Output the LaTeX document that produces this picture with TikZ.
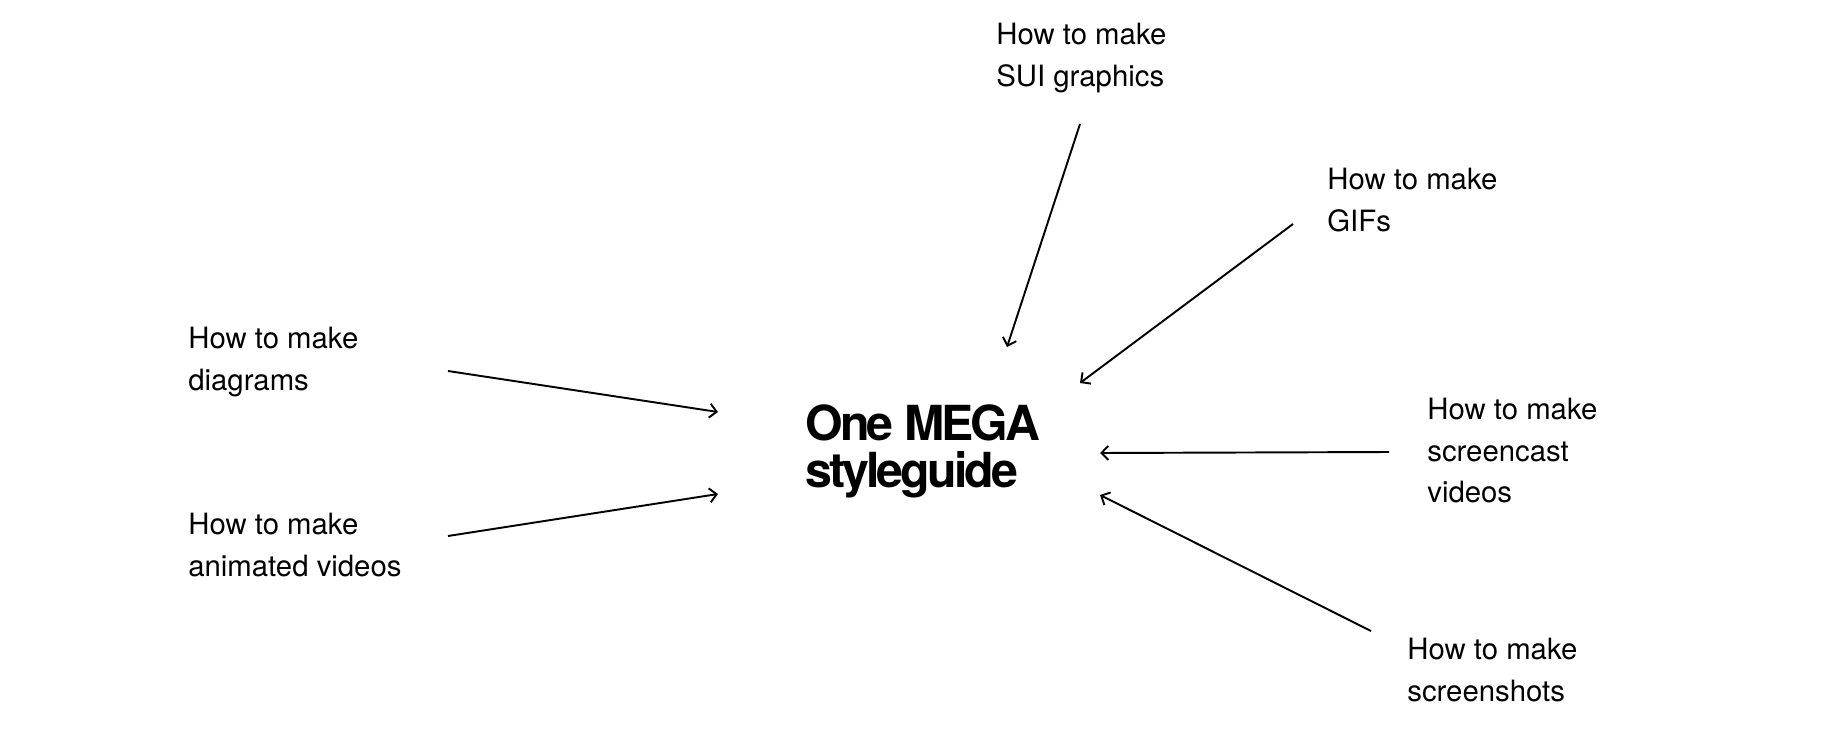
\documentclass[tikz,border=0pt]{standalone}
\usepackage{fontspec}
\setmainfont{TeX Gyre Heros}
\newfontfamily\hubfont[LetterSpace=-6]{TeX Gyre Heros}
\usetikzlibrary{arrows.meta}

\begin{document}
\begin{tikzpicture}[x=0.02cm, y=-0.02cm,
    label/.style={anchor=north west, inner sep=0, align=left,
      font=\fontsize{16.7}{23.6}\selectfont},
    link/.style={line width=1.1pt, -{Straight Barb[length=4pt, width=8pt, line width=1.1pt]}}]
    \useasboundingbox (0, 0) rectangle (1848, 733);

    \node[anchor=north west, inner sep=0, align=left,
      font=\hubfont\bfseries\fontsize{27.5}{26.8}\selectfont] (hub) at (805, 404) {One MEGA\\styleguide};

    \node[label] (diagrams) at (188, 327) {How to make\\diagrams};
    \node[label] (animated) at (188, 513) {How to make\\animated videos};
    \node[label] (sui) at (996, 23) {How to make\\SUI graphics};
    \node[label] (gifs) at (1327, 168) {How to make\\GIFs};
    \node[label] (screencast) at (1427, 398) {How to make\\screencast\\videos};
    \node[label] (screenshots) at (1407, 638) {How to make\\screenshots};

    \draw[link] ([shift={(260, 44)}]diagrams.north west) -- ([shift={(-87, 8)}]hub.north west);
    \draw[link] ([shift={(260, 23)}]animated.north west) -- ([shift={(-87, 90)}]hub.north west);
    \draw[link] ([shift={(84, 101)}]sui.north west) -- ([shift={(202, -57)}]hub.north west);
    \draw[link] ([shift={(-34, 56)}]gifs.north west) -- ([shift={(275, -21)}]hub.north west);
    \draw[link] ([shift={(-38, 54)}]screencast.north west) -- ([shift={(295, 49)}]hub.north west);
    \draw[link] ([shift={(-36, -7)}]screenshots.north west) -- ([shift={(295, 91)}]hub.north west);
\end{tikzpicture}
\end{document}
